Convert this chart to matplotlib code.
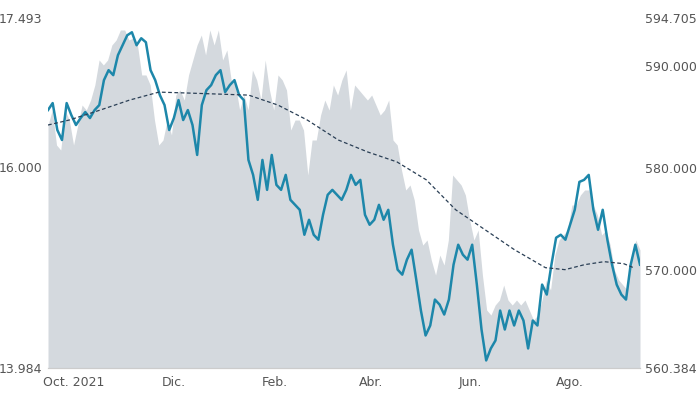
import pandas as pd
import matplotlib.pyplot as plt
import matplotlib.dates as mdates

# left axis series (blue line), evenly spaced from mid Sep 2021 to mid Sep 2022
price = [16.57, 16.64, 16.37, 16.27, 16.64, 16.52, 16.42, 16.49, 16.55, 16.49, 16.57, 16.62,
         16.87, 16.97, 16.92, 17.12, 17.22, 17.32, 17.35, 17.22, 17.29, 17.25, 16.97, 16.87,
         16.72, 16.62, 16.37, 16.49, 16.67, 16.47, 16.57, 16.42, 16.12, 16.62, 16.77, 16.82,
         16.92, 16.97, 16.75, 16.82, 16.87, 16.72, 16.67, 16.07, 15.92, 15.67, 16.07, 15.77,
         16.12, 15.82, 15.77, 15.92, 15.67, 15.62, 15.57, 15.32, 15.47, 15.32, 15.27, 15.52,
         15.72, 15.77, 15.72, 15.67, 15.77, 15.92, 15.82, 15.87, 15.52, 15.42, 15.47, 15.62,
         15.47, 15.57, 15.22, 14.97, 14.92, 15.07, 15.17, 14.87, 14.56, 14.31, 14.41, 14.67,
         14.62, 14.52, 14.67, 15.02, 15.22, 15.12, 15.07, 15.22, 14.82, 14.37, 14.06, 14.18,
         14.26, 14.56, 14.37, 14.56, 14.41, 14.56, 14.46, 14.18, 14.46, 14.41, 14.82, 14.72,
         15.02, 15.29, 15.32, 15.27, 15.42, 15.57, 15.85, 15.87, 15.92, 15.57, 15.37, 15.57,
         15.27, 15.02, 14.82, 14.72, 14.67, 15.02, 15.22, 15.02]

# right axis series (gray area)
volume = [584.21, 585.68, 582.25, 581.76, 585.68, 584.70, 582.25, 584.21, 586.17, 585.68,
          586.66, 588.14, 590.59, 590.10, 590.59, 592.06, 592.55, 593.53, 593.53, 592.55,
          592.74, 592.06, 589.12, 589.12, 588.14, 584.70, 582.25, 582.74, 584.70, 583.23,
          587.15, 587.65, 586.66, 589.12, 590.59, 592.06, 593.04, 591.08, 593.53, 592.06,
          593.53, 590.59, 591.57, 588.63, 588.14, 585.68, 587.15, 585.68, 589.61, 588.63,
          586.66, 590.59, 587.65, 585.68, 589.12, 588.63, 587.65, 583.72, 584.70, 584.70,
          583.72, 579.31, 582.74, 582.74, 585.19, 586.66, 585.68, 588.14, 587.15, 588.63,
          589.61, 585.68, 588.14, 587.65, 587.15, 586.66, 587.15, 586.17, 585.19, 585.68,
          586.66, 582.74, 582.25, 579.80, 577.84, 578.33, 576.86, 573.91, 572.44, 572.94,
          570.97, 569.50, 571.46, 570.48, 572.94, 579.31, 578.82, 578.33, 577.35, 574.90,
          572.94, 573.91, 569.50, 566.07, 565.58, 566.56, 567.05, 568.52, 567.05, 566.56,
          567.05, 566.56, 567.05, 566.07, 565.09, 565.58, 567.05, 569.01, 568.03, 571.46,
          572.94, 573.43, 573.91, 576.37, 576.37, 577.35, 577.84, 577.84, 576.37, 575.39,
          573.43, 573.91, 572.44, 569.99, 569.01, 568.52, 568.03, 570.97, 572.94, 571.96]

# moving average (dashed)
ma_dates = ["2021-09-15", "2021-09-28", "2021-10-17", "2021-11-04", "2021-11-22", "2021-12-11",
            "2021-12-29", "2022-01-16", "2022-02-03", "2022-02-21", "2022-03-12", "2022-03-30",
            "2022-04-17", "2022-05-05", "2022-05-23", "2022-06-10", "2022-06-28", "2022-07-17",
            "2022-07-29", "2022-08-10", "2022-08-22", "2022-09-03", "2022-09-09"]
ma = [16.42, 16.47, 16.57, 16.67, 16.75, 16.74, 16.73, 16.72, 16.62, 16.47, 16.27, 16.15,
      16.05, 15.87, 15.57, 15.37, 15.17, 14.99, 14.97, 15.02, 15.05, 15.03, 14.99]

start, end = "2021-09-15", "2022-09-13"
price_dates = pd.date_range(start, end, periods=len(price))
vol_dates = pd.date_range(start, end, periods=len(volume))
ma_dates = pd.to_datetime(ma_dates)

tick_dates = pd.to_datetime(["2021-10-01", "2021-12-01", "2022-02-01", "2022-04-01",
                             "2022-06-01", "2022-08-01"])
tick_labels = ["Oct. 2021", "Dic.", "Feb.", "Abr.", "Jun.", "Ago."]
left_ticks = [13.984, 16.000, 17.493]
right_ticks = [560.384, 570.000, 580.000, 590.000, 594.705]

fig = plt.figure(figsize=(6.97, 4.0), dpi=100)
ax = fig.add_axes([48 / 697, 32 / 400, 592 / 697, 350 / 400])
ax2 = ax.twinx()

ax2.fill_between(vol_dates, volume, 560.384, color="#d4d9de", lw=0)
ax2.set_ylim(560.384, 594.705)
ax.set_ylim(13.984, 17.493)
ax.set_zorder(ax2.get_zorder() + 1)
ax.patch.set_visible(False)

ax.plot(price_dates, price, color="#1d87aa", lw=1.8)
ax.plot(ma_dates, ma, color="#2a3f55", lw=0.9, ls=(0, (3, 2)))
ax.set_xlim(pd.Timestamp(start), pd.Timestamp(end))

ax.set_xticks(tick_dates)
ax.set_xticklabels(tick_labels)
ax.set_yticks(left_ticks)
ax.set_yticklabels([f"{t:.3f}" for t in left_ticks])
ax2.set_yticks(right_ticks)
ax2.set_yticklabels([f"{t:.3f}" for t in right_ticks])

for a in (ax, ax2):
    for s in ("top", "left", "right"):
        a.spines[s].set_visible(False)
    a.spines["bottom"].set_color("#cccccc")
    a.tick_params(colors="#555555", labelsize=9, length=0)
ax.tick_params(axis="y", pad=4)
ax.tick_params(axis="x", pad=6)

fig.savefig("out.png", dpi=100)
